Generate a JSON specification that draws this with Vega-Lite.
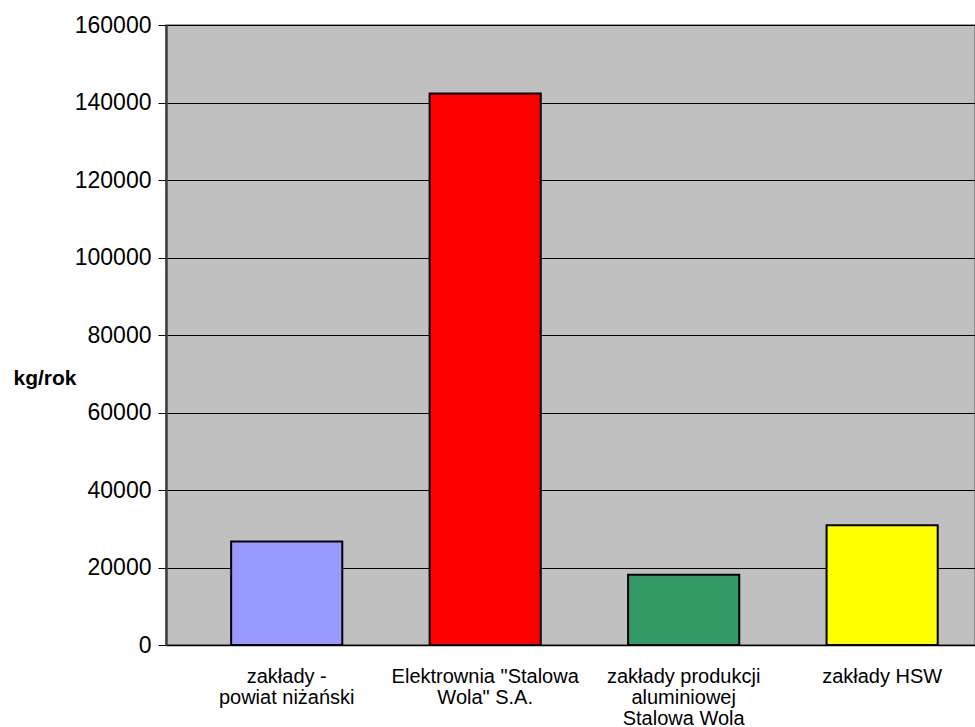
{
  "$schema": "https://vega.github.io/schema/vega-lite/v6.json",
  "autosize": {"type": "none"},
  "padding": {"left": 166, "top": 25, "right": 0, "bottom": 82},
  "width": 809,
  "height": 620,
  "background": "#ffffff",
  "config": {
    "font": "Liberation Sans",
    "view": {"fill": "#C0C0C0", "stroke": "#808080", "strokeWidth": 1.5}
  },
  "data": {
    "values": [
      {"zaklad": "zakłady -\npowiat niżański", "emisja": 26700},
      {"zaklad": "Elektrownia \"Stalowa\nWola\" S.A.", "emisja": 142300},
      {"zaklad": "zakłady produkcji\naluminiowej\nStalowa Wola", "emisja": 18100},
      {"zaklad": "zakłady HSW", "emisja": 30900}
    ]
  },
  "mark": {"type": "bar", "stroke": "#000000", "strokeWidth": 2},
  "encoding": {
    "x": {
      "field": "zaklad",
      "type": "nominal",
      "sort": null,
      "scale": {"paddingInner": 0.44, "paddingOuter": 0.258, "align": 0.636},
      "axis": {
        "title": null,
        "labelAngle": 0,
        "labelAlign": "center",
        "labelBaseline": "top",
        "labelExpr": "split(datum.label, '\\n')",
        "labelFontSize": 20,
        "labelLineHeight": 21,
        "labelColor": "#000000",
        "labelPadding": 21,
        "labelLimit": 300,
        "ticks": false,
        "domainColor": "#000000",
        "domainWidth": 1.5
      }
    },
    "y": {
      "field": "emisja",
      "type": "quantitative",
      "scale": {"domain": [0, 160000], "nice": false},
      "axis": {
        "values": [0, 20000, 40000, 60000, 80000, 100000, 120000, 140000, 160000],
        "format": "d",
        "labelFontSize": 23,
        "labelColor": "#000000",
        "labelPadding": 7,
        "tickSize": 8,
        "tickColor": "#000000",
        "tickWidth": 1,
        "domainColor": "#404040",
        "domainWidth": 2.5,
        "grid": true,
        "gridColor": "#000000",
        "gridWidth": 1,
        "gridOpacity": 1,
        "title": "kg/rok",
        "titleAngle": 0,
        "titleFontSize": 21,
        "titleFontWeight": "bold",
        "titleColor": "#000000",
        "titleAlign": "left",
        "titleBaseline": "middle",
        "titleX": -153,
        "titleY": 353
      }
    },
    "color": {
      "field": "zaklad",
      "type": "nominal",
      "sort": null,
      "scale": {"range": ["#9999FF", "#FF0000", "#339966", "#FFFF00"]},
      "legend": null
    }
  }
}
